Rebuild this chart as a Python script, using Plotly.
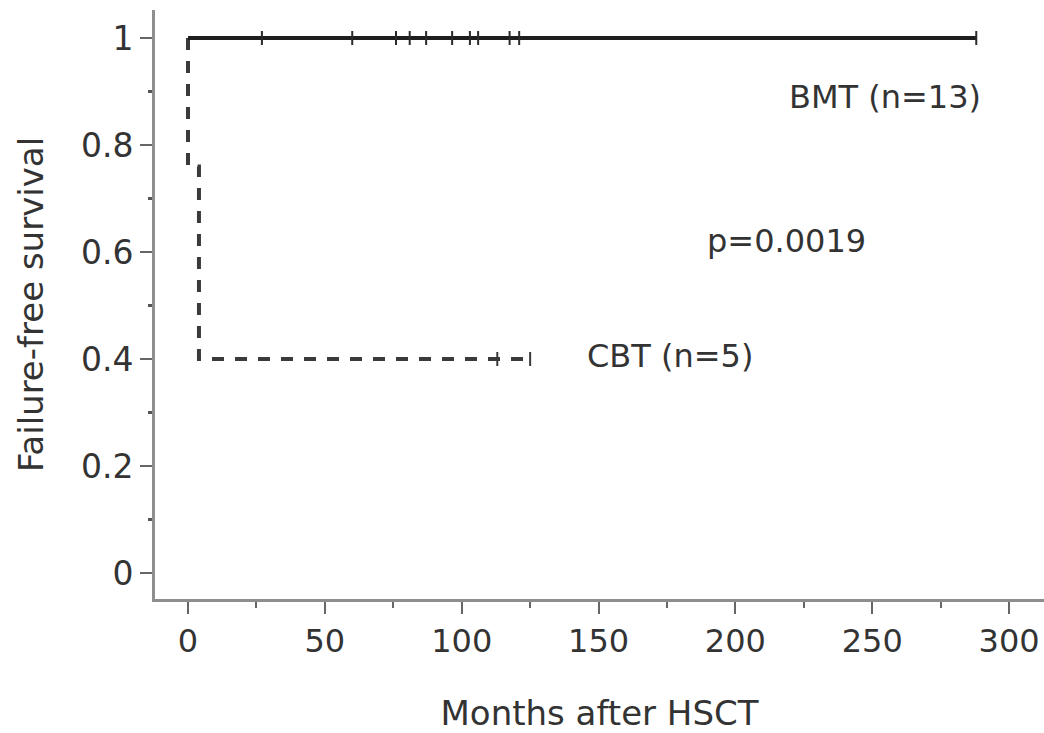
import plotly.graph_objects as go

# Kaplan-Meier steps
bmt_time = [0, 288]
bmt_surv = [1.0, 1.0]
bmt_censor_time = [27, 60, 76, 81, 87, 96.5, 103, 106, 117.5, 121, 288]

cbt_time = [0, 0, 4, 126]
cbt_surv = [1.0, 0.76, 0.4, 0.4]
cbt_censor_time = [113, 125]
cbt_censor_surv = [0.4, 0.4]

x_ticks = [0, 50, 100, 150, 200, 250, 300]
y_ticks = [0, 0.2, 0.4, 0.6, 0.8, 1]
y_ticklabels = ["0", "0.2", "0.4", "0.6", "0.8", "1"]

labels = ["BMT (n=13)", "p=0.0019", "CBT (n=5)"]
label_x = [219, 189, 145]
label_y = [0.89, 0.62, 0.405]

FONT = "DejaVu Sans"
fig = go.Figure()

fig.add_trace(go.Scatter(x=cbt_time, y=cbt_surv, mode="lines", line_shape="hv",
                         line=dict(color="#3a3a3a", width=4, dash="12px,11px"),
                         showlegend=False))
fig.add_trace(go.Scatter(x=bmt_time, y=bmt_surv, mode="lines", line_shape="hv",
                         line=dict(color="#1e1e1e", width=4), showlegend=False))
fig.add_trace(go.Scatter(x=bmt_censor_time, y=[bmt_surv[0]] * len(bmt_censor_time), mode="markers",
                         marker=dict(symbol="line-ns", size=10, line=dict(width=2, color="#2a2a2a")),
                         showlegend=False))
fig.add_trace(go.Scatter(x=cbt_censor_time, y=cbt_censor_surv, mode="markers",
                         marker=dict(symbol="line-ns", size=10, line=dict(width=2, color="#3a3a3a")),
                         showlegend=False))

for t, x, y in zip(labels, label_x, label_y):
    fig.add_annotation(x=x, y=y, text=t, showarrow=False, xanchor="left", yanchor="middle",
                       font=dict(family=FONT, size=32, color="#333333"))

fig.update_layout(
    width=1044, height=733,
    margin=dict(l=155, r=0, t=10, b=134),
    paper_bgcolor="white", plot_bgcolor="white",
    font=dict(family=FONT, color="#333333"),
)
fig.update_xaxes(
    range=[-12.06, 312.75], showgrid=False, zeroline=False,
    showline=True, linecolor="#8e8e8e", linewidth=3,
    tickmode="array", tickvals=x_ticks, ticks="outside", ticklen=12, tickwidth=2, tickcolor="#666666",
    tickfont=dict(family=FONT, size=32, color="#333333"),
    minor=dict(tickvals=[25, 75, 125, 175, 225, 275], ticks="outside", ticklen=6, tickwidth=2, tickcolor="#666666"),
    title=dict(text="Months after HSCT", font=dict(family=FONT, size=34, color="#333333"), standoff=44),
)
fig.update_yaxes(
    range=[-0.0486, 1.0523], showgrid=False, zeroline=False,
    showline=True, linecolor="#8e8e8e", linewidth=3,
    tickmode="array", tickvals=y_ticks, ticktext=y_ticklabels,
    ticks="outside", ticklen=12, tickwidth=2, tickcolor="#666666",
    tickfont=dict(family=FONT, size=33, color="#333333"),
    minor=dict(tickvals=[0.1, 0.3, 0.5, 0.7, 0.9], ticks="outside", ticklen=4, tickwidth=3, tickcolor="#555555"),
    title=dict(text="Failure-free survival", font=dict(family=FONT, size=34, color="#333333"), standoff=28),
)

fig.write_html("out.html")
